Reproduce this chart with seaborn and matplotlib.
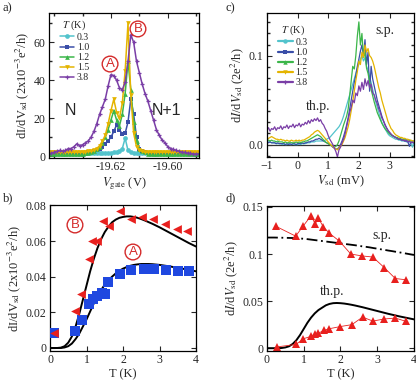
import numpy as np
import matplotlib
matplotlib.use("Agg")
import matplotlib.pyplot as plt
from matplotlib.lines import Line2D
from matplotlib.ticker import MultipleLocator
import seaborn as sns

# ---------------- panel a: dI/dV vs V_gate ----------------
v_gate = np.round(np.arange(-19.641, -19.5885, 0.001), 3)
temp_labels = ["0.3", "1.0", "1.2", "1.5", "3.8"]
temp_colors = ["#52c3cc", "#3a4ea8", "#3cb64a", "#e4b400", "#7a3ea6"]
temp_markers = ["o", "s", "^", "v", "+"]

gate_03 = [2, 1.5, 1.5, 1.5, 1.5, 1.5, 1.5, 1.5, 1.5, 1.5,
           1.5, 1.5, 1.5, 1.5, 1.5, 1.5, 1.5, 1.5, 1.5, 1.5,
           1.5, 1.5, 2, 2, 2.5, 4, 9.5, 3, 2, 1.5,
           1.5, 1.5, 1.5, 1.5, 1.5, 1.5, 1.5, 1.5, 1.5, 1.5,
           1.5, 1.5, 1.5, 1.5, 1.5, 1.5, 1.5, 1.5, 1.5, 1.5,
           1.5, 1.5, 1.5]
gate_10 = [1.5, 1.5, 1.5, 1.5, 1.5, 1.5, 1.5, 1.5, 1.5, 1.5,
           1.5, 1.5, 1.5, 2, 2, 2.5, 3, 4, 5, 6.5,
           8, 10, 13, 16.5, 14, 11.5, 12, 18, 30, 22,
           10, 4, 2.5, 2, 1.5, 1.5, 1.5, 1.5, 1.5, 1.5,
           1.5, 1.5, 1.5, 1.5, 1.5, 1.5, 1.5, 1.5, 1.5, 1.5,
           1.5, 1.5, 1.5]
gate_12 = [1, 1, 1, 1, 1, 1, 1, 1, 1, 1,
           1, 1, 1.5, 1.5, 2, 2.5, 3.5, 5, 7, 10,
           14, 19, 24, 19, 16, 22, 33, 50, 35, 18,
           8, 4, 2.5, 2, 1, 1, 1, 1, 1, 1,
           1, 1, 1, 1, 1, 1, 1, 1, 1, 1,
           1, 1, 1]
gate_15 = [2, 2, 2, 2, 2, 2, 2, 2, 2, 2,
           2, 2, 2, 2.5, 2.5, 3, 4, 5.5, 8, 11,
           17, 24, 30, 23, 20, 28, 45, 70, 32, 12,
           5, 3, 2.5, 2, 2, 2, 2, 2, 2, 2,
           2, 2, 2, 2, 2, 2, 2, 2, 2, 2,
           2, 2, 2]
gate_38 = [1.5, 2, 2.5, 3, 2.5, 3, 4, 4, 5, 6.5,
           5.5, 6, 7, 8, 10, 13, 17, 22, 26, 30,
           37, 43, 42.5, 40, 36, 35, 39, 50, 64, 60,
           50, 44, 38, 33, 29, 24, 19, 14, 11, 8.5,
           7, 5, 4, 3.5, 3, 2.5, 2, 2, 1.5, 1.5,
           1, 1, 1]

# ---------------- panel c: dI/dV vs V_sd ----------------
v_sd = np.round(np.arange(-1.0, 3.8001, 0.05), 2)

sd_03 = [0.004, 0.003, 0.003, 0.002, 0.002, 0.002, 0.001, 0.001, 0.001, 0.001,
         0.000, 0.001, 0.000, 0.000, 0.001, 0.000, 0.000, 0.001, 0.000, 0.000,
         0.000, 0.001, 0.000, 0.001, 0.001, 0.001, 0.002, 0.002, 0.002, 0.003,
         0.003, 0.003, 0.004, 0.004, 0.004, 0.004, 0.004, 0.004, 0.005, 0.006,
         0.007, 0.008, 0.010, 0.012, 0.014, 0.016, 0.018, 0.020, 0.023, 0.027,
         0.032, 0.038, 0.044, 0.050, 0.056, 0.062, 0.068, 0.074, 0.080, 0.086,
         0.090, 0.096, 0.100, 0.094, 0.098, 0.088, 0.084, 0.076, 0.070, 0.062,
         0.055, 0.048, 0.042, 0.036, 0.030, 0.025, 0.021, 0.018, 0.015, 0.012,
         0.010, 0.009, 0.008, 0.007, 0.006, 0.006, 0.005, 0.005, 0.004, 0.004,
         0.004, 0.003, 0.003, 0.003, 0.002, -0.003, 0.002]
sd_10 = [0.003, 0.002, 0.003, 0.002, 0.002, 0.002, 0.001, 0.002, 0.001, 0.001,
         0.001, 0.001, 0.000, 0.001, 0.000, 0.001, 0.000, 0.001, 0.001, 0.000,
         0.001, 0.001, 0.001, 0.002, 0.001, 0.002, 0.002, 0.003, 0.003, 0.004,
         0.004, 0.005, 0.006, 0.006, 0.007, 0.006, 0.005, 0.004, 0.003, 0.002,
         0.001, 0.000, -0.001, -0.003, -0.004, -0.005, -0.005, -0.003, 0.000, 0.004,
         0.009, 0.015, 0.022, 0.030, 0.040, 0.050, 0.060, 0.070, 0.078, 0.088,
         0.096, 0.105, 0.112, 0.100, 0.118, 0.090, 0.104, 0.060, 0.088, 0.074,
         0.066, 0.058, 0.050, 0.044, 0.038, 0.032, 0.027, 0.023, 0.019, 0.016,
         0.013, 0.011, 0.010, 0.009, 0.008, 0.007, 0.006, 0.006, 0.005, 0.005,
         0.004, 0.004, 0.003, -0.002, 0.003, 0.002, 0.002]
sd_12 = [0.005, 0.005, 0.004, 0.005, 0.004, 0.004, 0.003, 0.004, 0.003, 0.003,
         0.003, 0.002, 0.003, 0.002, 0.002, 0.003, 0.002, 0.002, 0.002, 0.003,
         0.002, 0.003, 0.002, 0.003, 0.003, 0.004, 0.004, 0.005, 0.006, 0.007,
         0.008, 0.009, 0.010, 0.011, 0.010, 0.009, 0.007, 0.005, 0.003, 0.002,
         0.001, 0.000, -0.001, -0.002, -0.003, -0.002, 0.000, 0.004, 0.010, 0.016,
         0.022, 0.027, 0.032, 0.040, 0.055, 0.072, 0.088, 0.085, 0.100, 0.122,
         0.138, 0.112, 0.125, 0.098, 0.104, 0.086, 0.080, 0.070, 0.062, 0.055,
         0.048, 0.042, 0.036, 0.032, 0.028, 0.024, 0.021, 0.018, 0.016, 0.014,
         0.012, 0.011, 0.010, 0.009, 0.008, 0.008, 0.007, 0.007, 0.006, 0.006,
         0.006, 0.005, 0.005, 0.005, 0.004, 0.004, 0.004]
sd_15 = [0.006, 0.007, 0.008, 0.009, 0.008, 0.007, 0.006, 0.006, 0.005, 0.006,
         0.005, 0.005, 0.004, 0.005, 0.004, 0.004, 0.005, 0.004, 0.004, 0.005,
         0.004, 0.005, 0.004, 0.005, 0.005, 0.006, 0.007, 0.008, 0.009, 0.011,
         0.012, 0.014, 0.015, 0.016, 0.015, 0.013, 0.011, 0.009, 0.007, 0.005,
         0.003, 0.001, -0.001, -0.002, -0.004, -0.005, -0.006, -0.004, -0.002, 0.000,
         0.004, 0.008, 0.014, 0.020, 0.028, 0.038, 0.048, 0.060, 0.072, 0.082,
         0.094, 0.090, 0.104, 0.098, 0.112, 0.104, 0.108, 0.100, 0.098, 0.094,
         0.088, 0.080, 0.072, 0.064, 0.058, 0.050, 0.044, 0.038, 0.032, 0.026,
         0.022, 0.018, 0.016, 0.013, 0.011, 0.010, 0.009, 0.008, 0.008, 0.007,
         0.007, 0.006, 0.006, 0.005, 0.005, 0.004, 0.004]
sd_38 = [0.016, 0.019, 0.015, 0.018, 0.017, 0.020, 0.016, 0.019, 0.018, 0.021,
         0.017, 0.020, 0.019, 0.022, 0.018, 0.021, 0.020, 0.023, 0.019, 0.022,
         0.021, 0.024, 0.020, 0.023, 0.022, 0.025, 0.023, 0.027, 0.024, 0.028,
         0.026, 0.029, 0.027, 0.030, 0.026, 0.028, 0.024, 0.022, 0.018, 0.015,
         0.010, 0.006, 0.003, 0.000, -0.004, -0.008, -0.014, -0.006, -0.003, 0.002,
         0.006, 0.012, 0.020, 0.028, 0.036, 0.042, 0.050, 0.047, 0.058, 0.055,
         0.066, 0.060, 0.070, 0.062, 0.074, 0.066, 0.072, 0.064, 0.068, 0.058,
         0.056, 0.050, 0.046, 0.040, 0.036, 0.030, 0.027, 0.022, 0.019, 0.016,
         0.014, 0.012, 0.010, 0.009, 0.008, 0.007, 0.006, 0.006, 0.005, 0.005,
         0.004, 0.005, 0.003, 0.004, 0.002, 0.003, 0.002]

# ---------------- panel b: peak heights vs T ----------------
t_peak_a = [0.12, 0.68, 0.87, 1.08, 1.19, 1.3, 1.42, 1.52, 1.6, 1.93, 2.23, 2.58, 2.86, 3.18, 3.5, 3.81]
g_peak_a = [0.0085, 0.0094, 0.0156, 0.0245, 0.0275, 0.029, 0.031, 0.030, 0.037, 0.0415, 0.044, 0.0445,
            0.0445, 0.044, 0.043, 0.043]
t_peak_b = [0.12, 0.68, 0.86, 1.06, 1.14, 1.28, 1.46, 1.62, 1.92, 2.21, 2.51, 2.83, 3.15, 3.47, 3.76]
g_peak_b = [0.0085, 0.021, 0.030, 0.050, 0.060, 0.060, 0.0715, 0.0685, 0.0767, 0.0726, 0.0733, 0.0722,
            0.0693, 0.0669, 0.0656]

t_model = np.round(np.arange(0, 4.001, 0.1), 1)
model_b = [0, 0, 0, 0.0002, 0.001, 0.003, 0.0065, 0.012, 0.019, 0.027,
           0.035, 0.043, 0.050, 0.056, 0.061, 0.065, 0.068, 0.0705, 0.072, 0.073,
           0.0735, 0.0738, 0.0738, 0.0735, 0.073, 0.0723, 0.0715, 0.0706, 0.0697, 0.0687,
           0.0677, 0.0666, 0.0655, 0.0644, 0.0633, 0.0622, 0.0611, 0.060, 0.0589, 0.0579,
           0.0569]
model_a = [0, 0, 0, 0, 0.0003, 0.001, 0.0025, 0.005, 0.008, 0.012,
           0.016, 0.0205, 0.025, 0.029, 0.0325, 0.0355, 0.038, 0.040, 0.0418, 0.0433,
           0.0445, 0.0454, 0.0461, 0.0466, 0.0469, 0.0471, 0.0471, 0.0471, 0.047, 0.0468,
           0.0466, 0.0463, 0.046, 0.0457, 0.0453, 0.045, 0.0446, 0.0442, 0.0438, 0.0434,
           0.043]

# ---------------- panel d: s.p. and th.p. vs T ----------------
t_sp = [0.24, 0.78, 0.99, 1.2, 1.31, 1.4, 1.53, 1.7, 1.97, 2.28, 2.58, 2.88, 3.19, 3.49, 3.79]
g_sp = [0.1295, 0.119, 0.130, 0.1407, 0.132, 0.138, 0.129, 0.122, 0.1137, 0.100, 0.098, 0.0968,
        0.0856, 0.074, 0.0726]
t_thp = [0.28, 0.79, 0.99, 1.2, 1.31, 1.4, 1.56, 1.7, 2.0, 2.31, 2.6, 2.88, 3.19, 3.49, 3.79]
g_thp = [0.0014, 0.004, 0.010, 0.0126, 0.0147, 0.016, 0.019, 0.0207, 0.023, 0.025, 0.033, 0.0288,
         0.031, 0.032, 0.0284]
model_sp = [0.1175, 0.1175, 0.1175, 0.1174, 0.1173, 0.1172, 0.1171, 0.117, 0.1168, 0.1165,
            0.1162, 0.1158, 0.1153, 0.1148, 0.1143, 0.1138, 0.1133, 0.1128, 0.1123, 0.1118,
            0.1113, 0.1108, 0.1103, 0.1098, 0.1093, 0.1087, 0.1081, 0.1076, 0.107, 0.1063,
            0.1057, 0.105, 0.1044, 0.1037, 0.1031, 0.1024, 0.1018, 0.1011, 0.1004, 0.0997,
            0.099]
model_thp = [0, 0, 0, 0, 0.0002, 0.0008, 0.002, 0.0045, 0.0085, 0.014,
             0.0205, 0.027, 0.0325, 0.037, 0.0405, 0.043, 0.0455, 0.047, 0.0478, 0.048,
             0.0478, 0.0474, 0.0468, 0.0461, 0.0453, 0.0444, 0.0435, 0.0425, 0.0415, 0.0405,
             0.0395, 0.0385, 0.0375, 0.0365, 0.0356, 0.0347, 0.0338, 0.033, 0.0322, 0.0314,
             0.0306]

RED = "#e8201e"
BLUE = "#1f48e0"
CIRCLE_RED = "#d42a2a"

sns.set_theme(style="ticks")
plt.rcParams["font.family"] = ["Liberation Serif", "DejaVu Serif"]
plt.rcParams["mathtext.fontset"] = "stix"
plt.rcParams.update({
    "xtick.direction": "in", "ytick.direction": "in",
    "xtick.top": True, "ytick.right": True,
    "xtick.major.size": 3.5, "ytick.major.size": 3.5,
    "xtick.minor.size": 2, "ytick.minor.size": 2,
    "xtick.major.width": 0.8, "ytick.major.width": 0.8,
    "xtick.labelsize": 8.5, "ytick.labelsize": 8.5,
    "axes.labelsize": 9, "axes.linewidth": 0.9,
    "xtick.major.pad": 2.5, "ytick.major.pad": 2.5,
})

fig = plt.figure(figsize=(4.16, 3.87), dpi=100)
ax_a = fig.add_axes([0.1178, 0.5917, 0.3606, 0.3747])
ax_c = fig.add_axes([0.6418, 0.5943, 0.3534, 0.3721])
ax_b = fig.add_axes([0.1202, 0.093, 0.351, 0.3773])
ax_d = fig.add_axes([0.6418, 0.093, 0.3534, 0.3747])


def circled(ax, x, y, letter):
    ax.text(x, y, letter, transform=ax.transAxes, ha="center", va="center",
            color=CIRCLE_RED, fontsize=9.5, family="Liberation Sans",
            bbox=dict(boxstyle="circle,pad=0.14", fc="white", ec=CIRCLE_RED, lw=1.0))


# ---- a ----
gate_series = [gate_03, gate_10, gate_12, gate_15, gate_38]
for lab, col, mk, vals in zip(temp_labels, temp_colors, temp_markers, gate_series):
    sns.lineplot(x=v_gate, y=vals, ax=ax_a, color=col, marker=mk, markersize=3.4,
                 markeredgewidth=0.9 if mk == "+" else 0, markeredgecolor=col,
                 lw=1.1, label=lab)
ax_a.set_xlim(-19.6418, -19.589)
ax_a.set_ylim(-1, 75.5)
ax_a.set_xticks([-19.62, -19.60])
ax_a.set_xticklabels(["-19.62", "-19.60"])
ax_a.xaxis.set_minor_locator(MultipleLocator(0.01))
ax_a.yaxis.set_major_locator(MultipleLocator(20))
ax_a.yaxis.set_minor_locator(MultipleLocator(10))
ax_a.set_xlabel(r"$V_{\rm gate}$ (V)", labelpad=1)
ax_a.set_ylabel(r"dI/dV$_{\rm sd}$ (2x10$^{-3}$e$^{2}$/h)", labelpad=2)
ax_a.legend(title=r"$T$ (K)", loc="upper left", bbox_to_anchor=(0.07, 0.965), frameon=False,
            fontsize=7, title_fontsize=7.5, handlelength=1.5, handletextpad=0.3,
            labelspacing=0.12, borderpad=0, borderaxespad=0)
ax_a.text(0.14, 0.33, "N", transform=ax_a.transAxes, ha="center", va="center",
          fontsize=11.5, family="Liberation Sans")
ax_a.text(0.78, 0.33, "N+1", transform=ax_a.transAxes, ha="center", va="center",
          fontsize=11.5, family="Liberation Sans")
circled(ax_a, 0.407, 0.648, "A")
circled(ax_a, 0.593, 0.89, "B")

# ---- c ----
ax_c.axhline(0, color="#333333", lw=0.9, zorder=1)
sd_series = [sd_03, sd_10, sd_12, sd_15, sd_38]
for col, vals in zip(temp_colors, sd_series):
    sns.lineplot(x=v_sd, y=vals, ax=ax_c, color=col, lw=0.9)
ax_c.set_xlim(-1, 3.8)
ax_c.set_ylim(-0.014, 0.148)
ax_c.set_xticks([-1, 0, 1, 2, 3])
ax_c.set_yticks([0.0, 0.1])
ax_c.set_yticklabels(["0.0", "0.1"])
ax_c.yaxis.set_minor_locator(MultipleLocator(0.0125))
ax_c.set_xlabel(r"$V_{\rm sd}$ (mV)", labelpad=1)
ax_c.set_ylabel(r"d$I$/d$V_{\rm sd}$ (2e$^{2}$/h)", labelpad=2)
proxies = [Line2D([], [], color=c, lw=1.6, marker=m, markersize=3.2,
                  markeredgewidth=0.9 if m == "+" else 0, markeredgecolor=c)
           for c, m in zip(temp_colors, temp_markers)]
ax_c.legend(proxies, temp_labels, title=r"$T$ (K)", loc="upper left",
            bbox_to_anchor=(0.075, 0.93), frameon=False, fontsize=7, title_fontsize=7.5,
            handlelength=1.5, handletextpad=0.3, labelspacing=0.12, borderpad=0,
            borderaxespad=0)
ax_c.text(0.80, 0.88, "s.p.", transform=ax_c.transAxes, ha="center", va="center", fontsize=10)
ax_c.text(0.35, 0.35, "th.p.", transform=ax_c.transAxes, ha="center", va="center", fontsize=10)

# ---- b ----
sns.lineplot(x=t_model, y=model_b, ax=ax_b, color="black", lw=1.4)
sns.lineplot(x=t_model, y=model_a, ax=ax_b, color="black", lw=1.4)
sns.scatterplot(x=t_peak_a, y=g_peak_a, ax=ax_b, color=BLUE, marker="s", s=48, linewidth=0, zorder=3)
sns.scatterplot(x=t_peak_b, y=g_peak_b, ax=ax_b, color=RED, marker="<", s=40, linewidth=0, zorder=4)
ax_b.set_xlim(0, 4)
ax_b.set_ylim(-0.0017, 0.0802)
ax_b.set_xticks([0, 1, 2, 3, 4])
ax_b.set_yticks([0, 0.02, 0.04, 0.06, 0.08])
ax_b.set_yticklabels(["0", "0.02", "0.04", "0.06", "0.08"])
ax_b.set_xlabel("T (K)", labelpad=1)
ax_b.set_ylabel(r"dI/dV$_{\rm sd}$ (2x10$^{-3}$e$^{2}$/h)", labelpad=2)
circled(ax_b, 0.171, 0.863, "B")
circled(ax_b, 0.568, 0.678, "A")

# ---- d ----
sns.lineplot(x=t_model, y=model_sp, ax=ax_d, color="black", lw=1.3, linestyle=(0, (6, 2, 1, 2)))
sns.lineplot(x=t_model, y=model_thp, ax=ax_d, color="black", lw=1.4)
sns.lineplot(x=t_sp, y=g_sp, ax=ax_d, color=RED, lw=0.6, marker="^", markersize=6,
             markeredgewidth=0, sort=False)
sns.lineplot(x=t_thp, y=g_thp, ax=ax_d, color=RED, lw=0.6, marker="^", markersize=6,
             markeredgewidth=0, sort=False)
ax_d.set_xlim(0, 4)
ax_d.set_ylim(-0.003, 0.151)
ax_d.set_xticks([0, 1, 2, 3, 4])
ax_d.set_yticks([0, 0.05, 0.1, 0.15])
ax_d.set_yticklabels(["0", "0.05", "0.1", "0.15"])
ax_d.set_xlabel("T (K)", labelpad=1)
ax_d.set_ylabel(r"d$I$/d$V_{\rm sd}$ (2e$^{2}$/h)", labelpad=2)
ax_d.text(0.78, 0.80, "s.p.", transform=ax_d.transAxes, ha="center", va="center", fontsize=10)
ax_d.text(0.44, 0.41, "th.p.", transform=ax_d.transAxes, ha="center", va="center", fontsize=10)

for ax in (ax_a, ax_b, ax_c, ax_d):
    ax.grid(False)
    for sp in ax.spines.values():
        sp.set_visible(True)
        sp.set_color("black")

fig.text(0.005, 0.995, "a)", ha="left", va="top", fontsize=9)
fig.text(0.543, 0.993, "c)", ha="left", va="top", fontsize=9)
fig.text(0.007, 0.502, "b)", ha="left", va="top", fontsize=9)
fig.text(0.541, 0.502, "d)", ha="left", va="top", fontsize=9)

fig.savefig("out.png", dpi=100)
